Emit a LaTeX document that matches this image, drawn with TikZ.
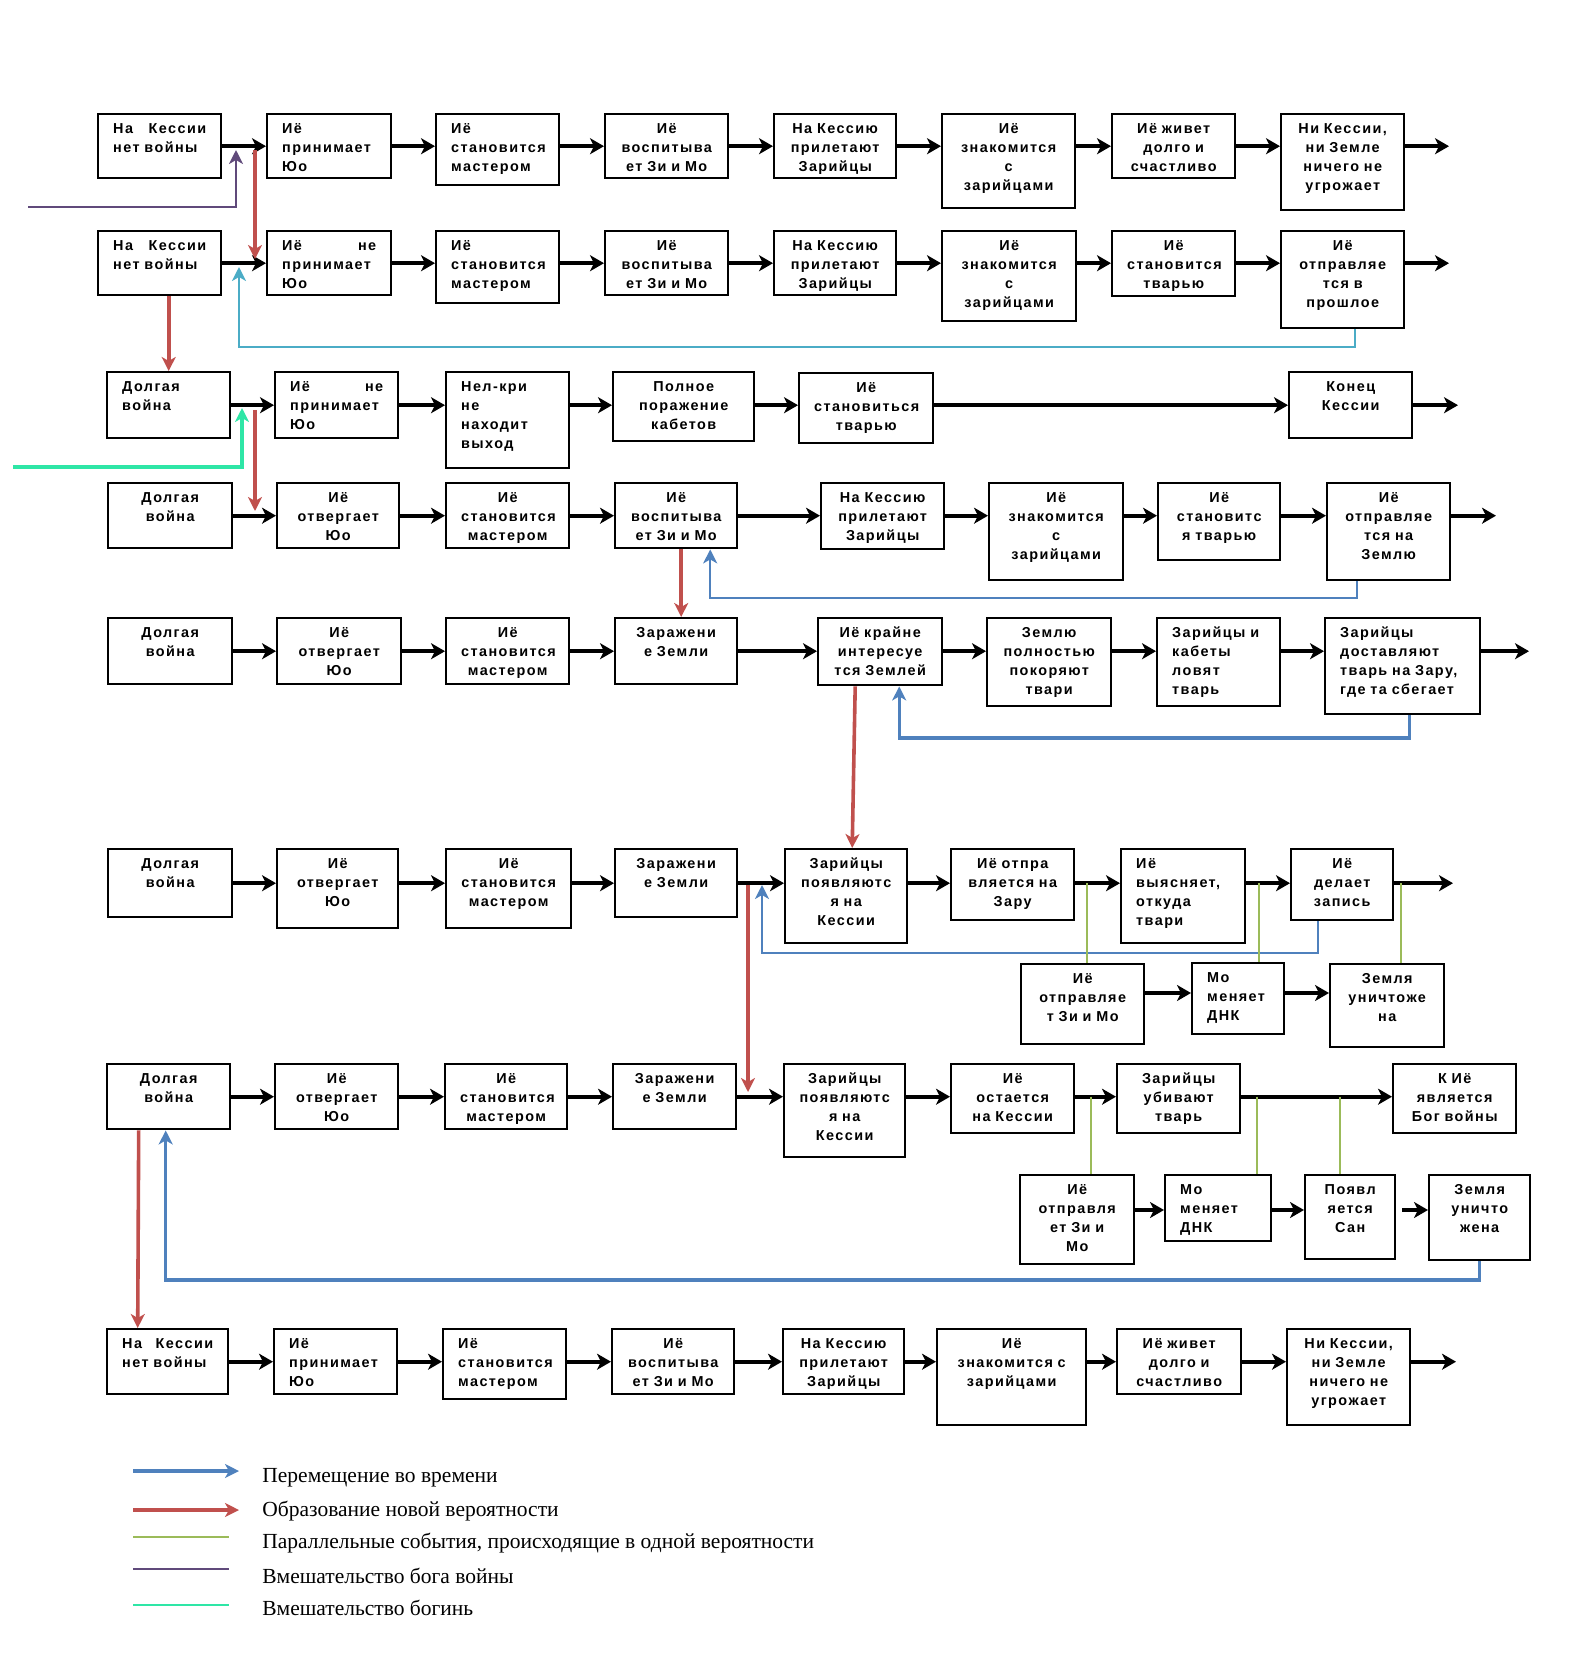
\documentclass[tikz,border=0pt]{standalone}
\usepackage{fontspec}
\setmainfont{Liberation Serif}
\newfontfamily\boxfont{Liberation Sans}[LetterSpace=10]
\usetikzlibrary{arrows.meta,positioning}
\definecolor{newred}{HTML}{C0504D}
\definecolor{timeblue}{HTML}{4F81BD}
\definecolor{backcyan}{HTML}{4BACC6}
\definecolor{pargreen}{HTML}{9BBB59}
\definecolor{warpurple}{HTML}{604A7B}
\definecolor{godsgreen}{HTML}{2EE6A6}
\tikzset{
  ev/.code 2 args={%
    \pgfmathsetlengthmacro\evw{#1*0.5pt-15pt}%
    \pgfmathsetlengthmacro\evd{#2*0.5pt-9.5pt}%
    \pgfkeysalso{draw, line width=1.2pt, anchor=north west, inner xsep=7.5pt, inner ysep=0pt,
      align=center, font=\boxfont\bfseries\fontsize{7.2}{9.5}\selectfont,
      text height=9.5pt, text width=\evw, text depth=\evd}},
  flow/.style={line width=2.2pt, -{Stealth[length=7pt,width=8pt,inset=2pt]}},
  newprob/.style={draw=newred, line width=1.8pt, -{Stealth[length=7pt,width=7pt,inset=2pt]}},
  tmove/.style={draw=timeblue, line width=1.2pt, -{Stealth[length=7pt,width=7pt,inset=2pt]}},
  backtime/.style={draw=backcyan, line width=1.2pt, -{Stealth[length=7pt,width=7pt,inset=2pt]}},
  parline/.style={draw=pargreen, line width=1.2pt},
  godwar/.style={draw=warpurple, line width=1.3pt, -{Stealth[length=7pt,width=7pt,inset=2pt]}},
  gods/.style={draw=godsgreen, line width=1.6pt, -{Stealth[length=7pt,width=7pt,inset=2pt]}},
  keytext/.style={anchor=west, inner xsep=0pt, font=\fontsize{10.75}{13}\selectfont}
}
\begin{document}
\begin{tikzpicture}[x=0.5pt, y=-0.5pt]
\useasboundingbox (0,0) rectangle (1582,1660);

\node[ev={123}{64}, align=left] (a1) at (97,113) {На\hfill Кессии\\нет войны};
\node[ev={124}{64}, align=left] (b1) at (266,113) {Иё\\принимает\\Юо};
\node[ev={123}{71}, align=left] (c1) at (435,113) {Иё\\становится\\мастером};
\node[ev={123}{64}] (d1) at (604,113) {Иё\\воспитыва\\ет Зи и Мо};
\node[ev={122}{64}] (e1) at (773,113) {На Кессию\\прилетают\\Зарийцы};
\node[ev={133}{94}] (f1) at (941,113) {Иё\\знакомится\\с\\зарийцами};
\node[ev={123}{64}] (g1) at (1111,113) {Иё живет\\долго и\\счастливо};
\node[ev={123}{96}] (h1) at (1280,113) {Ни Кессии,\\ни Земле\\ничего не\\угрожает};

\node[ev={123}{64}, align=left] (a2) at (97,230) {На\hfill Кессии\\нет войны};
\node[ev={124}{64}, align=left] (b2) at (266,230) {Иё\hfill не\\принимает\\Юо};
\node[ev={123}{72}, align=left] (c2) at (435,230) {Иё\\становится\\мастером};
\node[ev={123}{64}] (d2) at (604,230) {Иё\\воспитыва\\ет Зи и Мо};
\node[ev={122}{64}] (e2) at (773,230) {На Кессию\\прилетают\\Зарийцы};
\node[ev={134}{90}] (f2) at (941,230) {Иё\\знакомится\\с\\зарийцами};
\node[ev={123}{65}] (g2) at (1111,230) {Иё\\становится\\тварью};
\node[ev={123}{97}] (h2) at (1280,230) {Иё\\отправляе\\тся в\\прошлое};

\node[ev={123}{66}, align=left] (a3) at (106,371) {Долгая\\война};
\node[ev={123}{66}, align=left] (b3) at (274,371) {Иё\hfill не\\принимает\\Юо};
\node[ev={123}{96}, align=left] (c3) at (445,371) {Нел-кри\\не\\находит\\выход};
\node[ev={141}{69}] (d3) at (612,371) {Полное\\поражение\\кабетов};
\node[ev={134}{70}] (e3) at (798,372) {Иё\\становиться\\тварью};
\node[ev={123}{66}] (f3) at (1288,371) {Конец\\Кессии};

\node[ev={124}{65}] (a4) at (107,482) {Долгая\\война};
\node[ev={122}{65}] (b4) at (276,482) {Иё\\отвергает\\Юо};
\node[ev={123}{65}] (c4) at (445,482) {Иё\\становится\\мастером};
\node[ev={122}{65}] (d4) at (614,482) {Иё\\воспитыва\\ет Зи и Мо};
\node[ev={123}{66}] (e4) at (820,482) {На Кессию\\прилетают\\Зарийцы};
\node[ev={134}{97}] (f4) at (988,482) {Иё\\знакомится\\с\\зарийцами};
\node[ev={122}{77}] (g4) at (1157,482) {Иё\\становитс\\я тварью};
\node[ev={123}{97}] (h4) at (1326,482) {Иё\\отправляе\\тся на\\Землю};

\node[ev={124}{66}] (a5) at (107,617) {Долгая\\война};
\node[ev={124}{66}] (b5) at (276,617) {Иё\\отвергает\\Юо};
\node[ev={123}{66}] (c5) at (445,617) {Иё\\становится\\мастером};
\node[ev={122}{66}] (d5) at (614,617) {Заражени\\е Земли};
\node[ev={124}{67}] (e5) at (817,617) {Иё крайне\\интересуе\\тся Землей};
\node[ev={124}{88}] (f5) at (986,617) {Землю\\полностью\\покоряют\\твари};
\node[ev={123}{88}, align=left] (g5) at (1156,617) {Зарийцы и\\кабеты\\ловят\\тварь};
\node[ev={155}{96}, align=left] (h5) at (1324,617) {Зарийцы\\доставляют\\тварь на Зару,\\где та сбегает};

\node[ev={124}{68}] (a6) at (107,848) {Долгая\\война};
\node[ev={121}{79}] (b6) at (276,848) {Иё\\отвергает\\Юо};
\node[ev={125}{79}] (c6) at (445,848) {Иё\\становится\\мастером};
\node[ev={122}{68}] (d6) at (614,848) {Заражени\\е Земли};
\node[ev={122}{94}] (e6) at (784,848) {Зарийцы\\появляютс\\я на\\Кессии};
\node[ev={123}{71}] (f6) at (950,848) {Иё отпра\\вляется на\\Зару};
\node[ev={124}{94}, align=left] (g6) at (1120,848) {Иё\\выясняет,\\откуда\\твари};
\node[ev={102}{71}] (h6) at (1290,848) {Иё\\делает\\запись};
\node[ev={123}{80}] (i6) at (1020,963) {Иё\\отправляе\\т Зи и Мо};
\node[ev={92}{71}, align=left] (j6) at (1191,962) {Мо\\меняет\\ДНК};
\node[ev={114}{83}] (k6) at (1329,963) {Земля\\уничтоже\\на};

\node[ev={123}{65}] (a7) at (106,1063) {Долгая\\война};
\node[ev={123}{65}] (b7) at (274,1063) {Иё\\отвергает\\Юо};
\node[ev={122}{65}] (c7) at (444,1063) {Иё\\становится\\мастером};
\node[ev={123}{65}] (d7) at (612,1063) {Заражени\\е Земли};
\node[ev={121}{93}] (e7) at (783,1063) {Зарийцы\\появляютс\\я на\\Кессии};
\node[ev={123}{69}] (f7) at (950,1063) {Иё\\остается\\на Кессии};
\node[ev={123}{69}] (g7) at (1116,1063) {Зарийцы\\убивают\\тварь};
\node[ev={123}{69}] (h7) at (1392,1063) {К Иё\\является\\Бог войны};
\node[ev={114}{89}] (i7) at (1019,1174) {Иё\\отправля\\ет Зи и\\Мо};
\node[ev={106}{66}, align=left] (j7) at (1164,1174) {Мо\\меняет\\ДНК};
\node[ev={90}{84}] (k7) at (1304,1174) {Появл\\яется\\Сан};
\node[ev={101}{85}] (l7) at (1428,1174) {Земля\\уничто\\жена};

\node[ev={121}{65}, align=left] (a8) at (106,1328) {На\hfill Кессии\\нет войны};
\node[ev={123}{65}, align=left] (b8) at (273,1328) {Иё\\принимает\\Юо};
\node[ev={123}{70}, align=left] (c8) at (442,1328) {Иё\\становится\\мастером};
\node[ev={122}{65}] (d8) at (611,1328) {Иё\\воспитыва\\ет Зи и Мо};
\node[ev={121}{65}] (e8) at (782,1328) {На Кессию\\прилетают\\Зарийцы};
\node[ev={149}{96}] (f8) at (936,1328) {Иё\\знакомится с\\зарийцами};
\node[ev={124}{65}] (g8) at (1116,1328) {Иё живет\\долго и\\счастливо};
\node[ev={123}{96}] (h8) at (1286,1328) {Ни Кессии,\\ни Земле\\ничего не\\угрожает};

\foreach \r in {1,2,4,5,6,7,8}
  \foreach \p/\q in {a/b,b/c,c/d,d/e,e/f,f/g,g/h}
    \draw[flow] (\p\r.east |- a\r.east) -- (\q\r.west |- a\r.east);
\foreach \p/\q in {a/b,b/c,c/d,d/e,e/f}
  \draw[flow] (\p3.east |- a3.east) -- (\q3.west |- a3.east);

\foreach \r/\x in {1/1449,2/1449,4/1496,5/1529,6/1453,8/1456}
  \coordinate (o\r) at (\x,0);
\foreach \r in {1,2,4,5,6,8}
  \draw[flow] (h\r.east |- a\r.east) -- (o\r |- a\r.east);
\coordinate (o3) at (1458,0);
\draw[flow] (f3.east |- a3.east) -- (o3 |- a3.east);

\coordinate (s6) at (0,993);
\coordinate (s7) at (0,1210);
\draw[flow] (i6.east |- s6) -- (j6.west |- s6);
\draw[flow] (j6.east |- s6) -- (k6.west |- s6);
\draw[flow] (i7.east |- s7) -- (j7.west |- s7);
\draw[flow] (j7.east |- s7) -- (k7.west |- s7);
\draw[flow] ([xshift=3pt]k7.east |- s7) -- (l7.west |- s7);

\coordinate (gw) at (28,207);
\coordinate (gwt) at (236,150);
\draw[godwar] (gw) -| (gwt);
\coordinate (gd) at (13,467);
\coordinate (gdt) at (242,408);
\draw[gods] (gd) -| (gdt);

\coordinate (n1) at (255,150);
\coordinate (n1e) at (255,259);
\draw[newprob] (n1) -- (n1e);
\draw[newprob] (a3.north |- a2.south) -- (a3.north);
\coordinate (n3) at (255,410);
\coordinate (n3e) at (255,511);
\draw[newprob] (n3) -- (n3e);
\draw[newprob] ([xshift=2.5pt]d4.south) -- ([xshift=2.5pt]d5.north);
\draw[newprob] ([xshift=-12.5pt]e5.south) -- ([xshift=3pt]e6.north);
\coordinate (n6) at (748,885);
\coordinate (n6e) at (748,1092);
\draw[newprob] (n6) -- (n6e);
\draw[newprob] ([xshift=-15pt]a7.south) -- ([xshift=-15pt]a8.north);

\coordinate (cyb) at (0,347);
\coordinate (cyt) at (239,267);
\draw[backtime] ([xshift=6pt]h2.south) -- ([xshift=6pt]h2.south |- cyb) -| (cyt);
\coordinate (b1y) at (0,598);
\draw[tmove] ([xshift=-16pt]h4.south) -- ([xshift=-16pt]h4.south |- b1y) -| ([xshift=17pt]d4.south);
\coordinate (b2y) at (0,738);
\draw[tmove, line width=1.6pt] ([xshift=3.5pt]h5.south) -- ([xshift=3.5pt]h5.south |- b2y) -| ([xshift=9.5pt]e5.south);
\coordinate (b3y) at (0,953);
\coordinate (b3t) at (762,885);
\draw[tmove] ([xshift=-12pt]h6.south) -- ([xshift=-12pt]h6.south |- b3y) -| (b3t);
\coordinate (b4y) at (0,1280);
\draw[tmove, line width=1.6pt] (l7.south) -- (l7.south |- b4y) -| ([xshift=-1.5pt]a7.south);

\draw[parline] ([xshift=2pt]i6.north |- a6.east) -- ([xshift=2pt]i6.north);
\draw[parline] ([xshift=10.5pt]j6.north |- a6.east) -- ([xshift=10.5pt]j6.north);
\draw[parline] ([xshift=7pt]k6.north |- a6.east) -- ([xshift=7pt]k6.north);
\draw[parline] ([xshift=7pt]i7.north |- a7.east) -- ([xshift=7pt]i7.north);
\draw[parline] ([xshift=19.5pt]j7.north |- a7.east) -- ([xshift=19.5pt]j7.north);
\draw[parline] ([xshift=-5pt]k7.north |- a7.east) -- ([xshift=-5pt]k7.north);

\node[keytext] (k1) at (262,1478) {Перемещение во времени};
\node[keytext] (k2) at (262,1511) {Образование новой вероятности};
\node[keytext] (k3) at (262,1543) {Параллельные события, происходящие в одной вероятности};
\node[keytext] (k4) at (262,1576) {Вмешательство бога войны};
\node[keytext] (k5) at (262,1608) {Вмешательство богинь};
\draw[tmove, line width=2pt] ([xshift=-64.5pt,yshift=3.5pt]k1.west) -- ([xshift=-11.5pt,yshift=3.5pt]k1.west);
\draw[newprob, line width=2.2pt] ([xshift=-64.5pt,yshift=0.5pt]k2.west) -- ([xshift=-11.5pt,yshift=0.5pt]k2.west);
\draw[parline, line width=1.4pt] ([xshift=-64.5pt,yshift=3pt]k3.west) -- ([xshift=-16.5pt,yshift=3pt]k3.west);
\draw[draw=warpurple, line width=1.4pt] ([xshift=-64.5pt,yshift=3.5pt]k4.west) -- ([xshift=-16.5pt,yshift=3.5pt]k4.west);
\draw[draw=godsgreen, line width=1.4pt] ([xshift=-64.5pt,yshift=1.5pt]k5.west) -- ([xshift=-16.5pt,yshift=1.5pt]k5.west);
\end{tikzpicture}
\end{document}
